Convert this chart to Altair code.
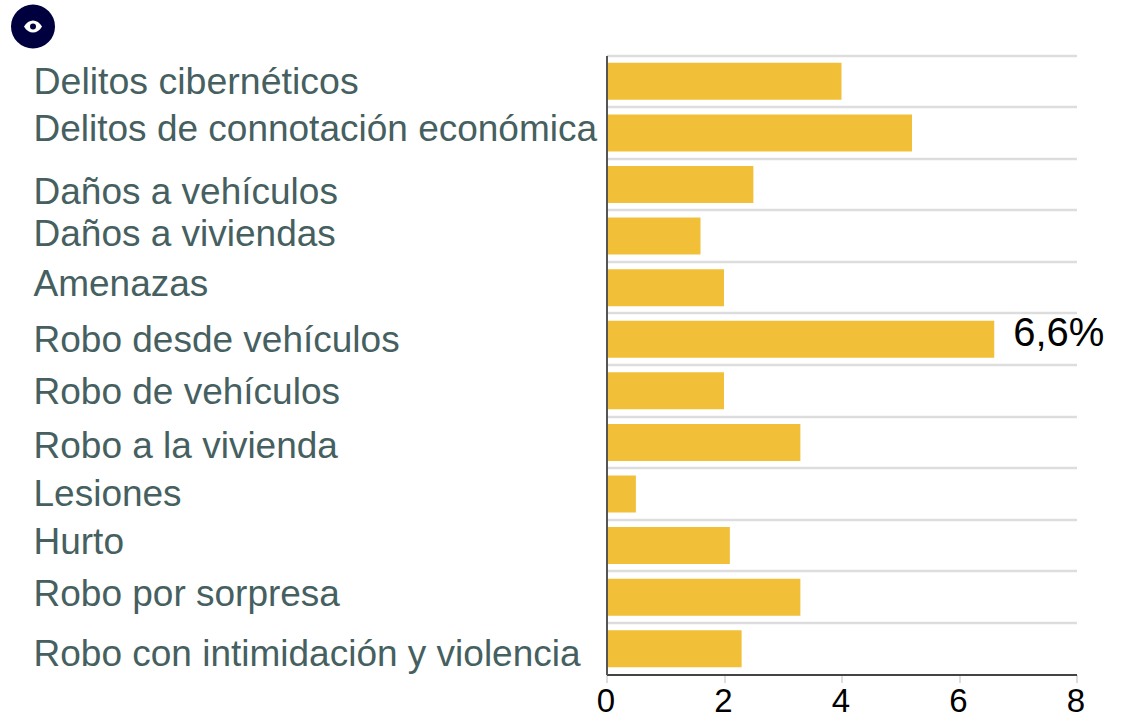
import altair as alt
import pandas as pd

categories = ["Delitos cibernéticos", "Delitos de connotación económica", "Daños a vehículos",
              "Daños a viviendas", "Amenazas", "Robo desde vehículos", "Robo de vehículos",
              "Robo a la vivienda", "Lesiones", "Hurto", "Robo por sorpresa",
              "Robo con intimidación y violencia"]
values = [4.0, 5.2, 2.5, 1.6, 2.0, 6.6, 2.0, 3.3, 0.5, 2.1, 3.3, 2.3]
value_labels = ["", "", "", "", "", "6,6%", "", "", "", "", "", ""]
label_shift = [0, -4, 7, -2, -4, 1, 1, 3, 0, -4, -3, 5]
label_size = [37.5, 37, 37, 37, 37, 37, 37, 37, 37, 37, 37, 37]
x_ticks = [0, 2, 4, 6, 8]

df = pd.DataFrame({"cat": categories, "val": values, "lab": value_labels,
                   "shift": label_shift, "fs": label_size})
icon = pd.DataFrame({"icon": ["eye"]})

FONT = "Liberation Sans"
y_scale = alt.Scale(domain=categories, paddingInner=0, paddingOuter=0)
x_scale = alt.Scale(domain=[0, 8], nice=False)

bars = alt.Chart(df).mark_bar(size=37, color="#F2BF38").encode(
    x=alt.X("val:Q", scale=x_scale, title=None,
            axis=alt.Axis(values=x_ticks, grid=False, domainColor="#444444", domainWidth=2,
                          tickColor="#DDDDDD", tickWidth=2, tickSize=8,
                          labelFont=FONT, labelFontSize=33, labelColor="#000000",
                          labelPadding=3, labelOffset=-1.2, labelFlush=False, format="d")),
    y=alt.Y("cat:N", scale=y_scale, sort=categories, title=None,
            axis=alt.Axis(labels=False, ticks=False, grid=True, gridColor="#DDDDDD", gridWidth=2.4,
                          bandPosition=0, domainColor="#555555", domainWidth=2, zindex=1)),
)

names = alt.Chart(df).transform_calculate(off="datum.shift + 27").mark_text(
    align="left", baseline="middle", font=FONT, color="#465F60").encode(
    x=alt.value(-573),
    y=alt.Y("cat:N", scale=y_scale, sort=categories, title=None),
    yOffset=alt.YOffset("off:Q", scale=None),
    size=alt.Size("fs:Q", scale=None),
    text="cat:N",
)

labels = alt.Chart(df).mark_text(align="left", baseline="middle", font=FONT, fontSize=40,
                                 color="#000000", dx=19, dy=-5).encode(
    x=alt.X("val:Q", scale=x_scale, title=None),
    y=alt.Y("cat:N", scale=y_scale, sort=categories, title=None),
    text="lab:N",
)

disc = alt.Chart(icon).mark_point(filled=True, opacity=1, shape="circle", color="#00003F", size=1936).encode(
    x=alt.value(-573.5), y=alt.value(-29))
eye = alt.Chart(icon).mark_point(filled=True, opacity=1, color="#FFFFFF", size=324,
                                 shape="M-1,0 C-0.5,-0.9 0.5,-0.9 1,0 C0.5,0.9 -0.5,0.9 -1,0 Z").encode(
    x=alt.value(-573.5), y=alt.value(-29))
pupil = alt.Chart(icon).mark_point(filled=True, opacity=1, shape="circle", color="#00003F", size=36).encode(
    x=alt.value(-573.5), y=alt.value(-29))

chart = alt.layer(bars, names, labels, disc, eye, pupil).properties(
    width=470, height=619,
    autosize=alt.AutoSizeParams(type="none"),
    padding={"left": 606.5, "top": 55.5, "right": 45, "bottom": 42.5},
).configure_view(stroke=None)

chart.save("out.html", embed_options={"renderer": "svg", "actions": False,
                                      "defaultStyle": "body{margin:0 !important}"})
